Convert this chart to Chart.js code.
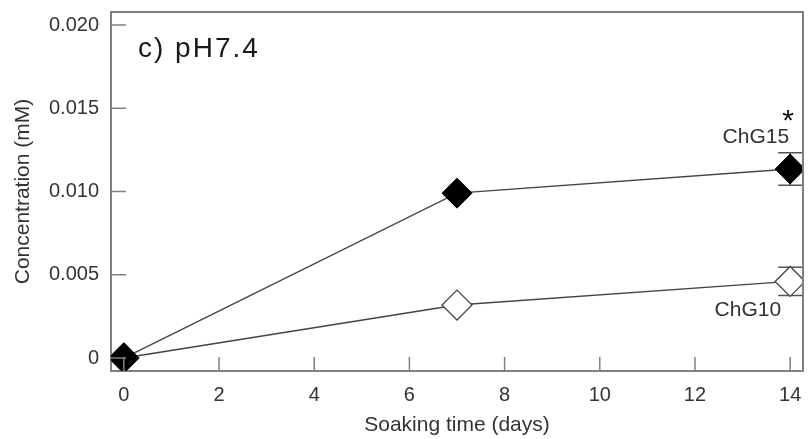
<!DOCTYPE html>
<html>
<head>
<meta charset="utf-8">
<script src="https://cdn.jsdelivr.net/npm/chart.js@4"></script>
<style>
html,body{margin:0;padding:0;background:#fff;}
#wrap{width:809px;height:439px;}
</style>
</head>
<body>
<div id="wrap"><canvas id="c" width="809" height="439"></canvas></div>
<script>
const days = [0, 7, 14];
const chg15 = [0, 0.0099, 0.01135];
const chg15Err = [0, 0, 0.00098];
const chg10 = [0, 0.00318, 0.0046];
const chg10Err = [0, 0, 0.00085];
const xTicks = [0, 2, 4, 6, 8, 10, 12, 14];
const yTicks = [0, 0.005, 0.010, 0.015, 0.020];
const yTickLabels = ['0', '0.005', '0.010', '0.015', '0.020'];
const panelTitle = 'c) pH7.4';
const seriesNames = ['ChG15', 'ChG10'];
const xTitle = 'Soaking time (days)';
const yTitle = 'Concentration (mM)';

const FONT = '"Liberation Sans", Arial, Helvetica, sans-serif';
const TEXT = '#333';
const AXIS = '#808080';

const overlay = {
  id: 'overlay',
  beforeDatasetsDraw(chart) {
    const ctx = chart.ctx, a = chart.chartArea;
    const xs = chart.scales.x, ys = chart.scales.y;
    ctx.save();
    ctx.beginPath(); ctx.rect(a.left, a.top, a.right - a.left, a.bottom - a.top); ctx.clip();
    ctx.strokeStyle = '#555'; ctx.lineWidth = 1.5;
    [[chg15, chg15Err], [chg10, chg10Err]].forEach(([vals, errs]) => {
      days.forEach((d, i) => {
        const e = errs[i]; if (!e) return;
        const px = xs.getPixelForValue(d);
        const y1 = ys.getPixelForValue(vals[i] + e), y2 = ys.getPixelForValue(vals[i] - e);
        ctx.beginPath();
        ctx.moveTo(px, y1); ctx.lineTo(px, y2);
        ctx.moveTo(px - 12, y1); ctx.lineTo(px + 12, y1);
        ctx.moveTo(px - 12, y2); ctx.lineTo(px + 12, y2);
        ctx.stroke();
      });
    });
    ctx.restore();
  },
  afterDatasetsDraw(chart) {
    const ctx = chart.ctx, a = chart.chartArea;
    const xs = chart.scales.x, ys = chart.scales.y;
    ctx.save();
    ctx.strokeStyle = AXIS; ctx.lineWidth = 2;
    ctx.beginPath();
    ctx.moveTo(a.left, a.top); ctx.lineTo(a.right, a.top); ctx.lineTo(a.right, a.bottom);
    ctx.stroke();
    ctx.lineWidth = 1.5;
    ctx.beginPath();
    xTicks.forEach(v => { const px = xs.getPixelForValue(v); ctx.moveTo(px, a.bottom); ctx.lineTo(px, a.bottom - 14); });
    yTicks.forEach(v => { const py = ys.getPixelForValue(v); ctx.moveTo(a.left, py); ctx.lineTo(a.left + 15, py); });
    ctx.stroke();
    ctx.restore();

    ctx.save();
    ctx.fillStyle = '#1a1a1a';
    ctx.textBaseline = 'middle';
    ctx.font = '28px ' + FONT;
    ctx.textAlign = 'left';
    try { ctx.letterSpacing = '2px'; } catch (e) {}
    ctx.fillText(panelTitle, a.left + 27, a.top + 37);
    try { ctx.letterSpacing = '0px'; } catch (e) {}
    const last = days.length - 1;
    const lx = xs.getPixelForValue(days[last]);
    const topErr = ys.getPixelForValue(chg15[last] + chg15Err[last]);
    ctx.fillStyle = '#333';
    ctx.font = '21px ' + FONT;
    ctx.textAlign = 'right';
    ctx.fillText(seriesNames[0], lx - 1, topErr - 15);
    ctx.fillStyle = '#111';
    ctx.font = '30px ' + FONT;
    ctx.textAlign = 'center';
    ctx.fillText('*', lx - 2, topErr - 31);
    ctx.fillStyle = '#333';
    ctx.font = '21px ' + FONT;
    ctx.textAlign = 'right';
    ctx.fillText(seriesNames[1], lx - 9, ys.getPixelForValue(chg10[last]) + 29);
    ctx.restore();
  }
};

new Chart(document.getElementById('c'), {
  type: 'line',
  data: {
    datasets: [
      {
        label: seriesNames[0],
        data: days.map((d, i) => ({ x: d, y: chg15[i] })),
        borderColor: '#444', borderWidth: 1.4,
        pointStyle: 'rectRot', pointRadius: 15, pointHoverRadius: 15,
        pointBackgroundColor: '#000', pointBorderColor: '#000', pointBorderWidth: 1,
        order: 0
      },
      {
        label: seriesNames[1],
        data: days.map((d, i) => ({ x: d, y: chg10[i] })),
        borderColor: '#444', borderWidth: 1.4,
        pointStyle: 'rectRot', pointRadius: 15, pointHoverRadius: 15,
        pointBackgroundColor: '#fff', pointBorderColor: '#444', pointBorderWidth: 1.3,
        order: 1
      }
    ]
  },
  options: {
    responsive: false,
    animation: false,
    events: [],
    layout: { autoPadding: false, padding: { left: 0, right: 6, top: 12, bottom: 0 } },
    plugins: { legend: { display: false }, tooltip: { enabled: false } },
    scales: {
      x: {
        type: 'linear', min: -0.27, max: 14.27,
        afterFit(s) { s.height = 68; s.paddingLeft = 0; s.paddingRight = 0; },
        afterBuildTicks(s) { s.ticks = xTicks.map(v => ({ value: v })); },
        grid: { display: false, drawTicks: false },
        border: { display: true, color: AXIS, width: 2 },
        ticks: { color: TEXT, font: { family: FONT, size: 20 }, padding: 12, maxRotation: 0, autoSkip: false },
        title: { display: true, text: xTitle, color: TEXT, font: { family: FONT, size: 21 }, padding: { top: 4, bottom: 1 } }
      },
      y: {
        type: 'linear', min: -0.00078, max: 0.02078,
        afterFit(s) { s.width = 111; s.paddingTop = 0; s.paddingBottom = 0; },
        afterBuildTicks(s) { s.ticks = yTicks.map(v => ({ value: v })); },
        grid: { display: false, drawTicks: false },
        border: { display: true, color: AXIS, width: 2 },
        ticks: {
          color: TEXT, font: { family: FONT, size: 20 }, padding: 12, autoSkip: false,
          callback: (v) => { const i = yTicks.findIndex(t => Math.abs(t - v) < 1e-9); return i >= 0 ? yTickLabels[i] : ''; }
        },
        title: { display: true, text: yTitle, color: TEXT, font: { family: FONT, size: 21 }, padding: { top: 11, bottom: 0 } }
      }
    }
  },
  plugins: [overlay]
});
</script>
</body>
</html>
